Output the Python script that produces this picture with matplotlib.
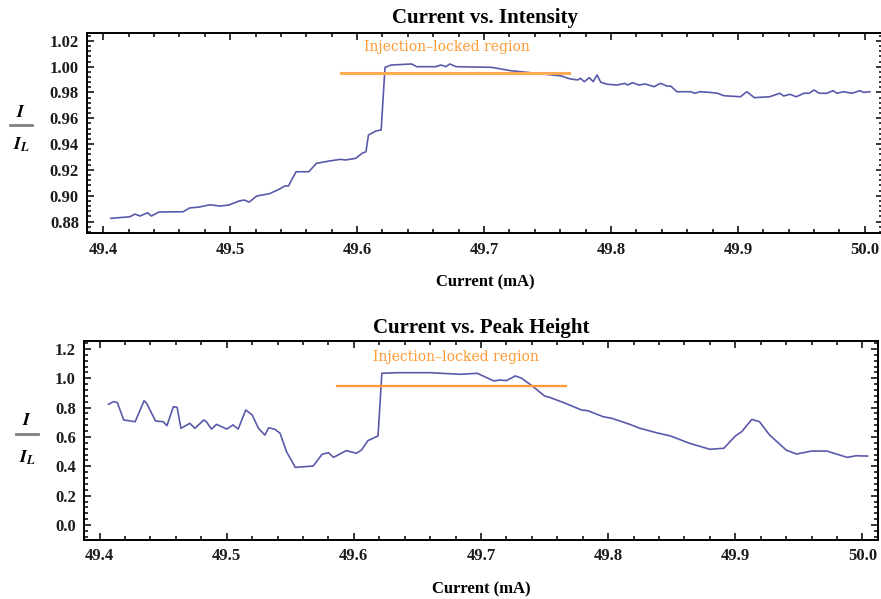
import numpy as np
import matplotlib
matplotlib.use("Agg")
import matplotlib.pyplot as plt
from matplotlib.lines import Line2D
from matplotlib.ticker import MultipleLocator, FormatStrFormatter

# --- data ---
# top panel: normalised intensity vs current
cur_int = [49.406, 49.421, 49.425, 49.429, 49.435, 49.438, 49.444, 49.463, 49.468, 49.476,
           49.484, 49.492, 49.499, 49.507, 49.511, 49.515, 49.521, 49.531, 49.539, 49.543,
           49.546, 49.549, 49.552, 49.562, 49.568, 49.578, 49.587, 49.591, 49.599, 49.604,
           49.607, 49.609, 49.615, 49.619, 49.622, 49.627, 49.643, 49.647, 49.662, 49.666,
           49.670, 49.673, 49.678, 49.706, 49.721, 49.737, 49.761, 49.768, 49.774, 49.776,
           49.779, 49.783, 49.786, 49.789, 49.792, 49.797, 49.805, 49.811, 49.813, 49.817,
           49.822, 49.827, 49.834, 49.839, 49.844, 49.847, 49.852, 49.863, 49.866, 49.870,
           49.878, 49.884, 49.889, 49.902, 49.907, 49.913, 49.925, 49.933, 49.936, 49.941,
           49.946, 49.952, 49.956, 49.960, 49.964, 49.970, 49.975, 49.978, 49.983, 49.990,
           49.996, 49.999, 50.004]
intensity = [0.8825, 0.8837, 0.8858, 0.8843, 0.8868, 0.8843, 0.8874, 0.8876, 0.8905, 0.8913,
             0.8930, 0.8920, 0.8928, 0.8959, 0.8967, 0.8951, 0.8998, 0.9016, 0.9052, 0.9076,
             0.9076, 0.9132, 0.9186, 0.9186, 0.9251, 0.9269, 0.9282, 0.9277, 0.9290, 0.9329,
             0.9341, 0.9471, 0.9502, 0.9510, 0.9995, 1.0013, 1.0021, 1.0000, 1.0000, 1.0013,
             1.0000, 1.0021, 1.0000, 0.9995, 0.9969, 0.9953, 0.9928, 0.9905, 0.9897, 0.9910,
             0.9884, 0.9915, 0.9884, 0.9936, 0.9879, 0.9864, 0.9858, 0.9871, 0.9858, 0.9876,
             0.9858, 0.9866, 0.9845, 0.9871, 0.9850, 0.9850, 0.9806, 0.9806, 0.9794, 0.9806,
             0.9801, 0.9794, 0.9775, 0.9767, 0.9806, 0.9760, 0.9767, 0.9794, 0.9773, 0.9786,
             0.9767, 0.9794, 0.9794, 0.9819, 0.9794, 0.9794, 0.9814, 0.9794, 0.9806, 0.9794,
             0.9814, 0.9801, 0.9806]

# bottom panel: normalised peak height vs current
cur_peak = [49.407, 49.411, 49.414, 49.419, 49.428, 49.435, 49.437, 49.444, 49.450, 49.453,
            49.458, 49.461, 49.464, 49.471, 49.475, 49.482, 49.484, 49.488, 49.492, 49.500,
            49.505, 49.509, 49.515, 49.520, 49.525, 49.530, 49.533, 49.538, 49.542, 49.547,
            49.554, 49.568, 49.575, 49.580, 49.584, 49.594, 49.602, 49.606, 49.611, 49.619,
            49.622, 49.634, 49.660, 49.684, 49.697, 49.710, 49.715, 49.720, 49.727, 49.732,
            49.741, 49.750, 49.754, 49.765, 49.779, 49.784, 49.796, 49.803, 49.817, 49.825,
            49.838, 49.849, 49.864, 49.880, 49.891, 49.900, 49.905, 49.913, 49.919, 49.927,
            49.940, 49.948, 49.960, 49.972, 49.988, 49.995, 50.004]
peak = [0.823, 0.841, 0.834, 0.716, 0.704, 0.847, 0.830, 0.709, 0.704, 0.677,
        0.806, 0.802, 0.659, 0.693, 0.659, 0.716, 0.704, 0.654, 0.686, 0.654,
        0.682, 0.654, 0.784, 0.750, 0.659, 0.613, 0.663, 0.652, 0.625, 0.500,
        0.393, 0.402, 0.482, 0.493, 0.461, 0.507, 0.489, 0.511, 0.575, 0.607,
        1.034, 1.038, 1.038, 1.027, 1.034, 0.982, 0.988, 0.984, 1.016, 1.000,
        0.943, 0.879, 0.870, 0.834, 0.784, 0.779, 0.738, 0.727, 0.686, 0.659,
        0.629, 0.607, 0.557, 0.516, 0.523, 0.607, 0.636, 0.720, 0.704, 0.613,
        0.511, 0.484, 0.504, 0.504, 0.461, 0.472, 0.470]

# injection-locked region marker (x range and level per panel)
lock_range = [49.587, 49.767]
lock_level_int = 0.9949
lock_level_peak = 0.948
lock_label = "Injection\u2013locked region"

plt.rcParams["mathtext.fontset"] = "stix"
serif = "Liberation Serif"
blue = "#5a5aaa"
orange = "#ff9a33"
tick_col = "#1c1c1c"

W, H = 881, 599
fig = plt.figure(figsize=(W / 100, H / 100), dpi=100)


def px_axes(left, right, top, bottom):
    return fig.add_axes([left / W, 1 - bottom / H, (right - left) / W, (bottom - top) / H])


def style(ax, ymaj, ymin, yfmt):
    ax.xaxis.set_major_locator(MultipleLocator(0.1))
    ax.xaxis.set_minor_locator(MultipleLocator(0.02))
    ax.xaxis.set_major_formatter(FormatStrFormatter("%.1f"))
    ax.yaxis.set_major_locator(MultipleLocator(ymaj))
    ax.yaxis.set_minor_locator(MultipleLocator(ymin))
    ax.yaxis.set_major_formatter(FormatStrFormatter(yfmt))
    ax.tick_params(which="both", direction="in", top=True, right=True,
                   width=1.1, color="black")
    ax.tick_params(which="major", length=5, labelsize=12, labelcolor=tick_col, pad=6)
    ax.tick_params(which="minor", length=3)
    for lab in ax.get_xticklabels() + ax.get_yticklabels():
        lab.set_fontfamily(serif)
        lab.set_fontweight("bold")
    for s in ax.spines.values():
        s.set_linewidth(1.4)


def frac_label(xc, y_top, y_bar, y_bot):
    # stacked I over I_L with a grey bar, as in the reference
    fig.text(xc / W, 1 - y_top / H, r"$\mathbfit{I}$", fontsize=13,
             ha="center", va="center")
    fig.add_artist(Line2D([(xc - 11) / W, (xc + 11) / W], [1 - y_bar / H] * 2,
                          color="#808080", lw=2))
    fig.text((xc + 1) / W, 1 - y_bot / H, r"$\mathbfit{I}_{\mathbfit{L}}$", fontsize=13,
             ha="center", va="center")


# ---- top panel ----
ax1 = px_axes(87.3, 883, 33, 233.3)
ax1.plot(cur_int, intensity, color=blue, lw=1.2)
ax1.plot(lock_range, [lock_level_int] * 2, color="#ffaa55", lw=2.2)
ax1.text(np.mean(lock_range) - 0.006, 1.0155, lock_label, color=orange,
         fontsize=10, family="DejaVu Serif", ha="center", va="center")
ax1.set_xlim(49.3875, 50.0143)
ax1.set_ylim(0.8709, 1.0261)
style(ax1, 0.02, 0.004, "%.2f")
ax1.set_title("Current vs. Intensity", family=serif, weight="bold", fontsize=15, pad=7)
ax1.set_xlabel("Current (mA)", family=serif, weight="bold", fontsize=12, labelpad=12)

# ---- bottom panel ----
ax2 = px_axes(84.3, 878, 341, 540)
ax2.plot(cur_peak, peak, color=blue, lw=1.2)
ax2.plot(lock_range, [lock_level_peak] * 2, color=orange, lw=1.6)
ax2.text(np.mean(lock_range) + 0.003, 1.147, lock_label, color=orange,
         fontsize=10, family="DejaVu Serif", ha="center", va="center")
ax2.set_xlim(49.388, 50.0122)
ax2.set_ylim(-0.102, 1.254)
style(ax2, 0.2, 0.04, "%.1f")
ax2.set_title("Current vs. Peak Height", family=serif, weight="bold", fontsize=15, pad=6)
ax2.set_xlabel("Current (mA)", family=serif, weight="bold", fontsize=12, labelpad=12)

frac_label(21, 112, 125, 145)
frac_label(27, 420, 434, 458)

fig.savefig("out.png", dpi=100)
